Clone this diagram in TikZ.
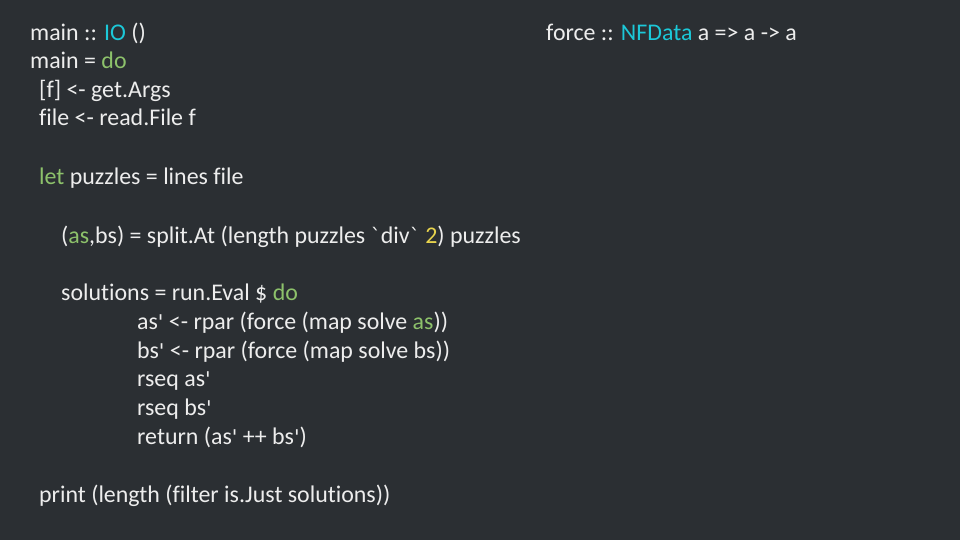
\documentclass[tikz,border=0pt]{standalone}
\usepackage{fontspec}
\setmainfont{Carlito}[Ligatures={NoCommon,NoRequired,NoContextual}]
\newfontfamily\qf{DejaVu Sans}[Ligatures=ResetAll,Scale=0.85]
\definecolor{bg}{HTML}{2B2F33}
\definecolor{fg}{HTML}{EDEDED}
\definecolor{cy}{HTML}{1CC8D8}
\definecolor{gr}{HTML}{8DC26B}
\definecolor{ye}{HTML}{E8D44D}
\newcommand{\C}[1]{\textcolor{cy}{#1}}
\newcommand{\G}[1]{\textcolor{gr}{#1}}
\newcommand{\Y}[1]{\textcolor{ye}{#1}}
\newcommand{\Q}{{\qf\char"0027}}
\newcommand{\B}{{\qf\char"0060}}
\begin{document}
\begin{tikzpicture}[x=1pt,y=-1pt,
  code/.style={anchor=base west,inner sep=0pt,text=fg,font=\fontsize{23.9}{28}\selectfont}]
\fill[bg] (0,0) rectangle (960,540);
\useasboundingbox (0,0) rectangle (960,540);
\node[code] (l1) at (30,41) {main :: \C{IO} ()};
\node[code] (l2) at (30,69) {main = \G{do}};
\node[code] (l3) at (39,98) {[f] <- get.Args};
\node[code] (l4) at (39,126) {f{}ile <- read.File f};
\node[code] (l5) at (39,185) {\G{let} puzzles = lines f{}ile};
\node[code] (l6) at (61,243) {(\G{as},bs) = split.At (length puzzles \B div\B{} \Y{2}) puzzles};
\node[code] (l7) at (61,300) {solutions = run.Eval \$ \G{do}};
\node[code] (l8) at (137,329) {as\Q{} <- rpar (force (map solve \G{as}))};
\node[code] (l9) at (137,358) {bs\Q{} <- rpar (force (map solve bs))};
\node[code] (l10) at (137,386) {rseq as\Q};
\node[code] (l11) at (137,415) {rseq bs\Q};
\node[code] (l12) at (137,444) {return (as\Q{} ++ bs\Q)};
\node[code] (l13) at (39,502) {print (length (f{}ilter is.Just solutions))};
\node[code] (r1) at (546,41) {force :: \C{NFData} a => a -> a};
\end{tikzpicture}
\end{document}
